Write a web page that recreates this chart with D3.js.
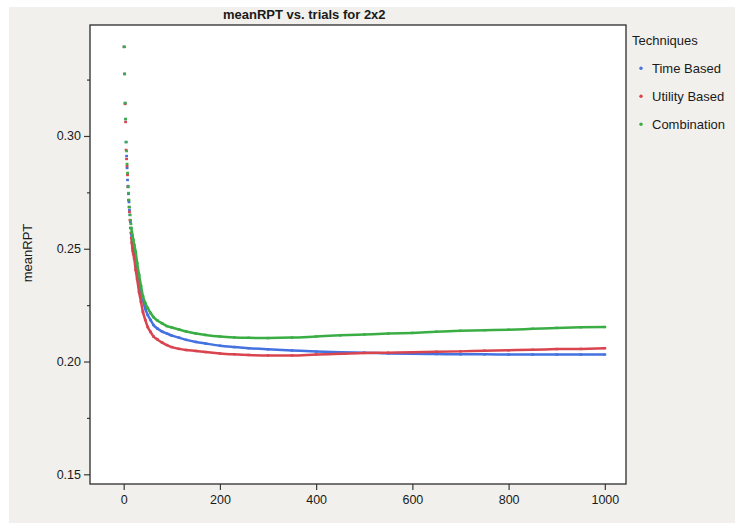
<!DOCTYPE html>
<html>
<head>
<meta charset="utf-8">
<script src="https://cdn.jsdelivr.net/npm/d3@7"></script>
<style>
  html, body { margin: 0; padding: 0; background: #ffffff; }
  svg { display: block; }
  text { font-family: "Liberation Sans", Arial, sans-serif; fill: #1a1a1a; }
</style>
</head>
<body>
<svg id="chart" width="735" height="523"></svg>
<script>
// Trials at which the running mean was recorded
const trials = [1, 2, 3, 4, 5, 6, 7, 8, 9, 10, 11, 12, 13, 14, 15, 16, 17, 18, 19, 20,
  22, 25, 28, 32, 36, 40, 45, 50, 56, 62, 70, 80, 90, 100, 115, 130, 150, 170, 200,
  230, 260, 300, 350, 400, 450, 500, 550, 600, 650, 700, 750, 800, 850, 900, 950, 1000];

// meanRPT per technique, one value per entry of `trials`
const timeBased = [0.3395, 0.3275, 0.3146, 0.3075, 0.2973, 0.2911, 0.2858, 0.2805, 0.2778, 0.2743,
  0.2707, 0.2672, 0.2650, 0.2619, 0.2592, 0.2565, 0.2552, 0.2534, 0.2521, 0.2508,
  0.2481, 0.2441, 0.2406, 0.2357, 0.2308, 0.2273, 0.2233, 0.2206, 0.2184, 0.2162,
  0.2146, 0.2133, 0.2124, 0.2115, 0.2106, 0.2096, 0.2087, 0.2080, 0.2070,
  0.2064, 0.2059, 0.2054, 0.2049, 0.2044, 0.2041, 0.2039, 0.2036, 0.2034, 0.2033,
  0.2032, 0.2032, 0.2031, 0.2031, 0.2031, 0.2031, 0.2031];

const utilityBased = [0.3395, 0.3275, 0.3142, 0.3062, 0.2938, 0.2898, 0.2867, 0.2827, 0.2774, 0.2716,
  0.2685, 0.2663, 0.2627, 0.2592, 0.2570, 0.2548, 0.2526, 0.2503, 0.2490, 0.2477,
  0.2455, 0.2406, 0.2366, 0.2308, 0.2264, 0.2220, 0.2184, 0.2153, 0.2131, 0.2111,
  0.2098, 0.2084, 0.2073, 0.2064, 0.2056, 0.2051, 0.2047, 0.2042, 0.2036,
  0.2032, 0.2029, 0.2027, 0.2027, 0.2031, 0.2034, 0.2038, 0.2039, 0.2041, 0.2043,
  0.2045, 0.2048, 0.2050, 0.2052, 0.2055, 0.2056, 0.2059];

const combination = [0.3395, 0.3275, 0.3146, 0.3075, 0.2973, 0.2933, 0.2876, 0.2836, 0.2774, 0.2747,
  0.2716, 0.2685, 0.2650, 0.2627, 0.2610, 0.2592, 0.2574, 0.2561, 0.2548, 0.2539,
  0.2517, 0.2486, 0.2437, 0.2384, 0.2335, 0.2290, 0.2259, 0.2237, 0.2215, 0.2197,
  0.2182, 0.2169, 0.2157, 0.2151, 0.2142, 0.2133, 0.2124, 0.2118, 0.2111,
  0.2107, 0.2105, 0.2104, 0.2106, 0.2111, 0.2116, 0.2120, 0.2124, 0.2127, 0.2132,
  0.2136, 0.2139, 0.2141, 0.2145, 0.2149, 0.2152, 0.2153];

const seriesNames = ["Time Based", "Utility Based", "Combination"];
const seriesValues = [timeBased, utilityBased, combination];
const seriesColors = ["#4472e0", "#d9444f", "#3aae45"];

const xTicks = [0, 200, 400, 600, 800, 1000];
const yTicks = [0.15, 0.20, 0.25, 0.30];
const yMinorTicks = [0.175, 0.225, 0.275, 0.325];

const titleText = "meanRPT vs. trials for 2x2";
const yLabel = "meanRPT";
const legendTitle = "Techniques";

// From this trial onward the markers sit close enough to run together as a line
const denseFrom = 16;

const svg = d3.select("#chart");
const W = 735, H = 523;
const plot = { left: 90, top: 25, right: 626, bottom: 484 };

// panel background
svg.append("rect").attr("x", 9).attr("y", 7).attr("width", W - 9).attr("height", H - 7)
  .attr("fill", "#f1f0ec");
svg.append("rect").attr("x", plot.left).attr("y", plot.top)
  .attr("width", plot.right - plot.left).attr("height", plot.bottom - plot.top)
  .attr("fill", "#ffffff");

const x = d3.scaleLinear().domain([-70, 1044]).range([plot.left, plot.right]);
const y = d3.scaleLinear().domain([0.1457, 0.3492]).range([plot.bottom, plot.top]);

// axes
const xAxis = svg.append("g").attr("transform", `translate(0,${plot.bottom})`)
  .call(d3.axisBottom(x).tickValues(xTicks).tickSize(6).tickPadding(5).tickFormat(d3.format("d")));
const yAxis = svg.append("g").attr("transform", `translate(${plot.left},0)`)
  .call(d3.axisLeft(y).tickValues(yTicks).tickSize(6).tickPadding(3).tickFormat(d3.format(".2f")));
const yMinor = svg.append("g").attr("transform", `translate(${plot.left},0)`)
  .call(d3.axisLeft(y).tickValues(yMinorTicks).tickSize(3).tickFormat(""));

[xAxis, yAxis, yMinor].forEach(g => {
  g.select(".domain").remove();
  g.selectAll(".tick line").attr("stroke", "#3a3a3a").attr("stroke-width", 1.2);
  g.selectAll(".tick text").attr("font-family", "Liberation Sans, Arial, sans-serif")
    .attr("font-size", 12.5).attr("fill", "#1a1a1a");
});

// series
svg.append("clipPath").attr("id", "plotclip").append("rect")
  .attr("x", plot.left).attr("y", plot.top)
  .attr("width", plot.right - plot.left).attr("height", plot.bottom - plot.top);

const marks = svg.append("g").attr("clip-path", "url(#plotclip)");
const line = d3.line().x(d => x(d.t)).y(d => y(d.v)).curve(d3.curveMonotoneX);

seriesValues.forEach((vals, i) => {
  const pts = trials.map((t, k) => ({ t, v: vals[k] }));
  const g = marks.append("g");
  g.append("path")
    .datum(pts.filter(p => p.t >= denseFrom))
    .attr("d", line)
    .attr("fill", "none")
    .attr("stroke", seriesColors[i])
    .attr("stroke-width", 2.5);
  g.selectAll("rect").data(pts).join("rect")
    .attr("x", d => x(d.t) - 1.4)
    .attr("y", d => y(d.v) - 1.2)
    .attr("width", 2.8)
    .attr("height", 2.4)
    .attr("fill", seriesColors[i]);
});

// frame
svg.append("rect").attr("x", plot.left).attr("y", plot.top)
  .attr("width", plot.right - plot.left).attr("height", plot.bottom - plot.top)
  .attr("fill", "none").attr("stroke", "#2b2b2b").attr("stroke-width", 1.3);

// title
svg.append("text").attr("x", 223).attr("y", 18.5)
  .attr("font-family", "DejaVu Sans, Verdana, sans-serif")
  .attr("font-weight", "bold").attr("font-size", 13)
  .text(titleText);

// y axis label
svg.append("text")
  .attr("transform", "translate(32,253) rotate(-90)")
  .attr("text-anchor", "middle")
  .attr("font-size", 13)
  .text(yLabel);

// legend
const legend = svg.append("g");
legend.append("text").attr("x", 632).attr("y", 45).attr("font-size", 13).text(legendTitle);
const items = legend.selectAll("g.item").data(seriesNames).join("g").attr("class", "item")
  .attr("transform", (d, i) => `translate(0,${68 + i * 28})`);
items.append("circle").attr("cx", 641).attr("cy", 0.3).attr("r", 1.7)
  .attr("fill", (d, i) => seriesColors[i]);
items.append("text").attr("x", 652).attr("y", 4.5).attr("font-size", 13).text(d => d);
</script>
</body>
</html>
